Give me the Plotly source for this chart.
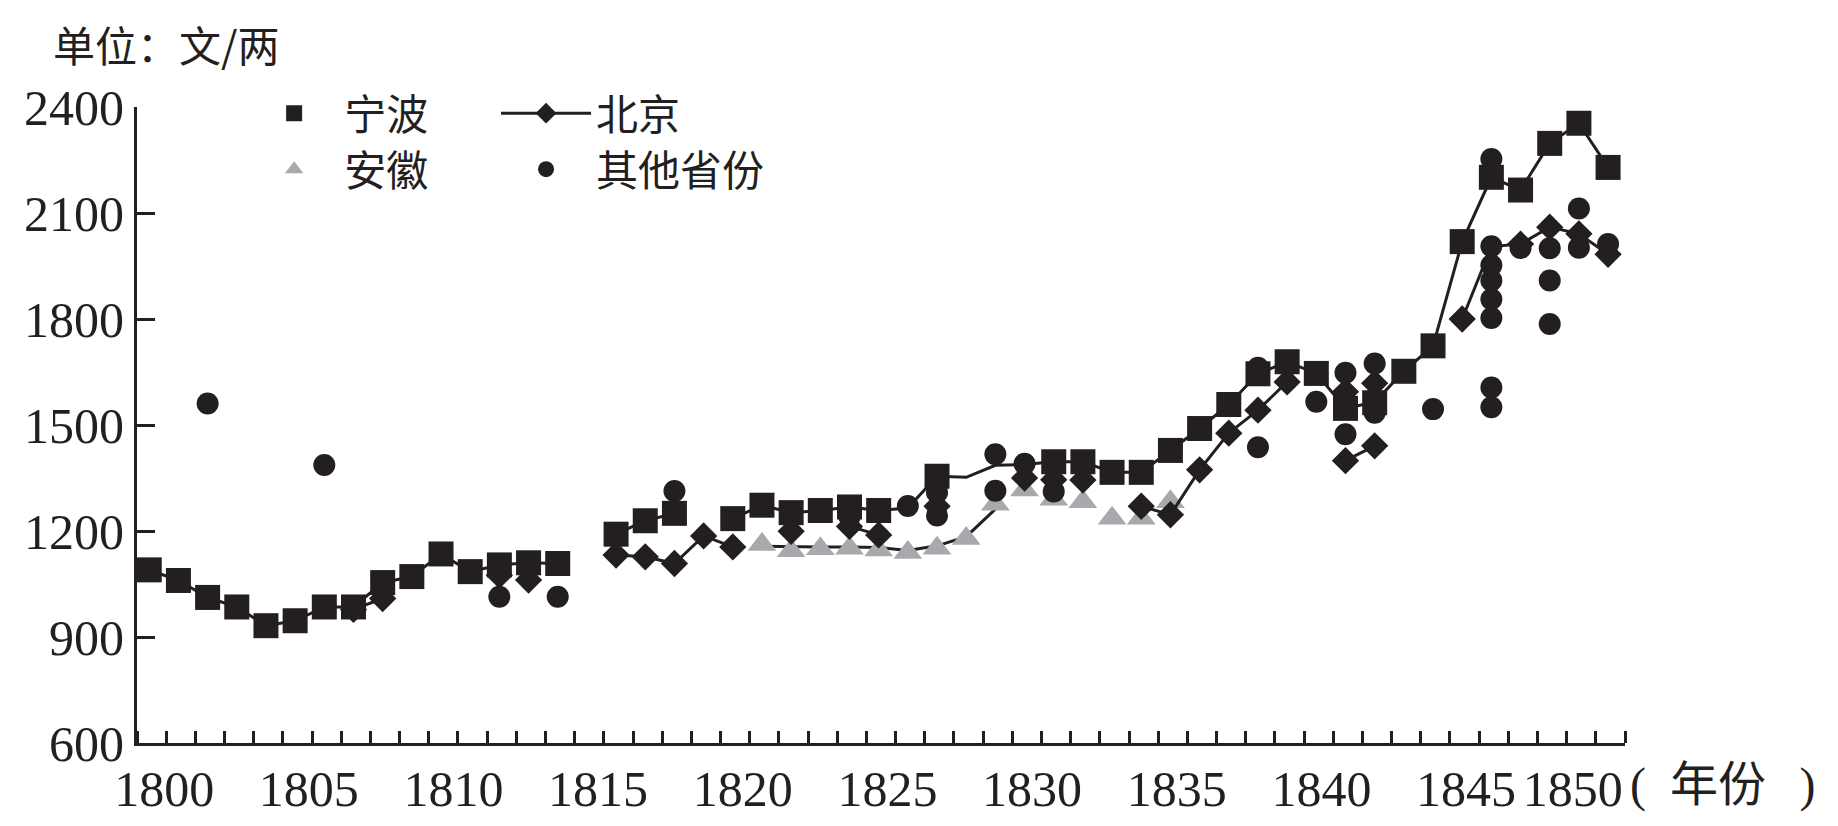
import plotly.graph_objects as go

# ---------------- data ----------------
# 宁波 markers
nb_years = [1800, 1801, 1802, 1803, 1804, 1805, 1806, 1807, 1808, 1809, 1810, 1811, 1812, 1813, 1814,
            1816, 1817, 1818, 1820, 1821, 1822, 1823, 1824, 1825, 1827,
            1831, 1832, 1833, 1834, 1835, 1836, 1837, 1838, 1839, 1840, 1841, 1842, 1843, 1844,
            1845, 1846, 1847, 1848, 1849, 1850]
nb_vals = [1090, 1060, 1012, 985, 932, 946, 985, 985, 1054, 1071, 1135, 1085, 1104, 1110, 1108,
           1191, 1229, 1250, 1235, 1273, 1252, 1258, 1268, 1258, 1355,
           1396, 1396, 1366, 1366, 1428, 1490, 1558, 1645, 1679, 1646, 1547, 1563, 1652, 1724,
           2019, 2201, 2165, 2297, 2354, 2229]
# 宁波 line (None = break)
nb_line_years = [1800, 1801, 1802, 1803, 1804, 1805, 1806, 1807, 1808, 1809, 1810, 1811, 1812, 1813, 1814,
                 1815, 1816, 1817, 1818, 1819, 1820, 1821, 1822, 1823, 1824, 1825, 1826, 1827, 1828,
                 1829, 1830, 1831, 1832, 1833, 1834, 1835, 1836, 1837, 1838, 1839, 1840, 1841, 1842,
                 1843, 1844, 1845, 1846, 1847, 1848, 1849, 1850]
nb_line_vals = [1090, 1060, 1012, 985, 932, 946, 985, 985, 1054, 1071, 1135, 1085, 1104, 1110, 1108,
                None, 1191, 1229, 1250, None, 1235, 1273, 1252, 1258, 1268, 1258, 1265, 1355, 1352,
                1386, 1388, 1396, 1396, 1366, 1366, 1428, 1490, 1558, 1645, 1679, 1646, 1547, 1565,
                1652, 1724, 2019, 2201, 2165, 2297, 2354, 2229]

# 北京 markers
bj_years = [1807, 1808, 1812, 1813, 1816, 1817, 1818, 1819, 1820, 1822, 1824, 1825, 1827,
            1830, 1831, 1832, 1834, 1835, 1836, 1837, 1838, 1839, 1841, 1841, 1842, 1842,
            1845, 1847, 1848, 1849, 1850]
bj_vals = [978, 1009, 1075, 1061, 1132, 1127, 1108, 1186, 1155, 1199, 1213, 1189, 1270,
           1350, 1345, 1344, 1270, 1246, 1373, 1477, 1542, 1622, 1399, 1594, 1441, 1618,
           1800, 2012, 2060, 2041, 1983]
# 北京 line (None = break)
bj_line_years = [1807, 1808, 1809, 1816, 1817, 1818, 1819, 1820, 1821, 1824, 1825, 1826,
                 1834, 1835, 1836, 1837, 1838, 1839, 1840, 1841, 1842, 1843,
                 1845, 1846, 1847, 1848, 1849, 1850]
bj_line_vals = [978, 1009, None, 1132, 1127, 1108, 1186, 1155, None, 1213, 1189, None,
                1270, 1246, 1373, 1477, 1542, 1622, None, 1399, 1441, None,
                1800, 2005, 2012, 2060, 2041, 1983]

# 安徽 markers
ah_years = [1821, 1822, 1823, 1824, 1825, 1826, 1827, 1828, 1829, 1830, 1831, 1832, 1833, 1834, 1835]
ah_vals = [1162, 1144, 1150, 1151, 1146, 1139, 1151, 1179, 1276, 1316, 1290, 1283, 1236, 1236, 1283]
# 安徽 line
ah_line_years = [1821, 1822, 1823, 1824, 1825, 1826, 1827, 1828, 1829]
ah_line_vals = [1157, 1155, 1155, 1155, 1153, 1145, 1158, 1184, 1262]

# 其他省份 markers
ot_years = [1802, 1806, 1812, 1814, 1818, 1824, 1826, 1827, 1827, 1829, 1829, 1830, 1831,
            1838, 1838, 1840, 1841, 1841, 1842, 1842, 1844,
            1846, 1846, 1846, 1846, 1846, 1846, 1846, 1846,
            1847, 1848, 1848, 1848, 1849, 1849, 1850]
ot_vals = [1561, 1387, 1014, 1014, 1313, 1240, 1271, 1309, 1244, 1417, 1314, 1390, 1312,
           1662, 1437, 1566, 1648, 1474, 1674, 1535, 1545,
           2253, 2006, 1952, 1909, 1856, 1803, 1606, 1550,
           2001, 2000, 1909, 1786, 2113, 2002, 2012]

x_labels = ["1800", "1805", "1810", "1815", "1820", "1825", "1830", "1835", "1840", "1845", "1850"]
x_label_years = [1800, 1805, 1810, 1815, 1820, 1825, 1830, 1835, 1840, 1845, 1850]
y_ticks = [600, 900, 1200, 1500, 1800, 2100, 2400]

# ---------------- style ----------------
BLACK = "#231f20"
GRAY = "#a7a9ac"
SERIF = "Liberation Serif, Noto Sans CJK SC, serif"
CJK = "Noto Sans CJK SC, Liberation Serif"
OFF = 0.58          # year tick marks sit between the year slots
LBL_OFF = 0.51      # placement of the year labels as in the original
LBL_STEP = 0.9916
LAST_LABEL_POS = 1848.79   # the last year label is nudged left to make room for the unit text

label_pos = [1800 + LBL_OFF + (y - 1800) * LBL_STEP for y in x_label_years[:-1]] + [LAST_LABEL_POS]

fig = go.Figure()

fig.add_trace(go.Scatter(x=ah_line_years, y=ah_line_vals, mode="lines",
                         line=dict(color=BLACK, width=3), showlegend=False, hoverinfo="skip"))
fig.add_trace(go.Scatter(x=ah_years, y=ah_vals, mode="markers",
                         marker=dict(symbol="triangle-up", size=25, color=GRAY), showlegend=False))
fig.add_trace(go.Scatter(x=bj_line_years, y=bj_line_vals, mode="lines", connectgaps=False,
                         line=dict(color=BLACK, width=3), showlegend=False, hoverinfo="skip"))
fig.add_trace(go.Scatter(x=bj_years, y=bj_vals, mode="markers",
                         marker=dict(symbol="diamond", size=21, color=BLACK), showlegend=False))
fig.add_trace(go.Scatter(x=ot_years, y=ot_vals, mode="markers",
                         marker=dict(symbol="circle", size=22, color=BLACK), showlegend=False))
fig.add_trace(go.Scatter(x=nb_line_years, y=nb_line_vals, mode="lines", connectgaps=False,
                         line=dict(color=BLACK, width=3), showlegend=False, hoverinfo="skip"))
fig.add_trace(go.Scatter(x=nb_years, y=nb_vals, mode="markers",
                         marker=dict(symbol="square", size=25, color=BLACK), showlegend=False))

# legend entries (one legend box per entry, arranged 2 x 2)
fig.add_trace(go.Scatter(x=[None], y=[None], mode="markers", name="宁波", legend="legend",
                         marker=dict(symbol="square", size=22, color=BLACK)))
fig.add_trace(go.Scatter(x=[None], y=[None], mode="lines+markers", name="北京", legend="legend2",
                         line=dict(color=BLACK, width=3),
                         marker=dict(symbol="diamond", size=21, color=BLACK)))
fig.add_trace(go.Scatter(x=[None], y=[None], mode="markers", name="安徽", legend="legend3",
                         marker=dict(symbol="triangle-up", size=22, color=GRAY)))
fig.add_trace(go.Scatter(x=[None], y=[None], mode="markers", name="其他省份", legend="legend4",
                         marker=dict(symbol="circle", size=22, color=BLACK)))

legend_common = dict(orientation="h", xanchor="left", yanchor="middle",
                     font=dict(family=CJK, size=42, color=BLACK),
                     bgcolor="rgba(0,0,0,0)", itemwidth=90)

fig.update_layout(
    width=1830, height=818,
    margin=dict(l=129, r=213, t=99, b=83),
    paper_bgcolor="white", plot_bgcolor="white",
    font=dict(family=SERIF, color=BLACK),
    showlegend=True,
    legend=dict(x=0.072, y=0.99, **legend_common),
    legend2=dict(x=0.2413, y=0.99, **legend_common),
    legend3=dict(x=0.072, y=0.902, **legend_common),
    legend4=dict(x=0.2413, y=0.902, **legend_common),
    xaxis=dict(
        range=[1799 + OFF, 1850 + OFF],
        tickvals=label_pos, ticktext=x_labels, tickangle=0, automargin=False,
        ticks="",
        minor=dict(tick0=1799 + OFF, dtick=1, ticks="inside", ticklen=12, tickwidth=2.5, tickcolor=BLACK),
        showline=True, linewidth=3, linecolor=BLACK,
        showgrid=False, zeroline=False,
        tickfont=dict(family=SERIF, size=50, color=BLACK),
    ),
    yaxis=dict(
        range=[600, 2400], tickvals=y_ticks, automargin=False,
        ticks="inside", ticklen=18, tickwidth=2.5, tickcolor=BLACK,
        showline=True, linewidth=3, linecolor=BLACK,
        showgrid=False, zeroline=False,
        tickfont=dict(family=SERIF, size=50, color=BLACK),
    ),
    annotations=[
        dict(text="单位：文/两", xref="paper", yref="paper", x=-0.058, y=1.10,
             xanchor="left", yanchor="middle", showarrow=False,
             font=dict(family=CJK, size=42, color=BLACK)),
        dict(text="(\u2002年份\u2002\u2009)", xref="paper", yref="paper", x=1.002, y=-0.066,
             xanchor="left", yanchor="middle", showarrow=False,
             font=dict(family=SERIF, size=48, color=BLACK)),
    ],
)

fig.write_html("out.html")
